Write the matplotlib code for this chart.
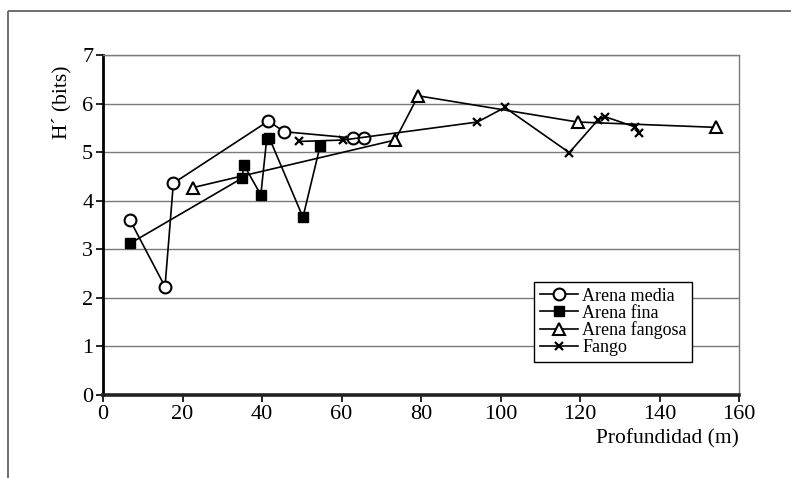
import matplotlib
matplotlib.use("Agg")
import matplotlib.pyplot as plt
from matplotlib.patches import Rectangle

plt.rcParams['font.family'] = ['Liberation Serif', 'DejaVu Serif']

# Arena media
media_x = [6.8, 15.6, 17.7, 41.6, 45.6, 63.0, 65.7]
media_y = [3.60, 2.23, 4.36, 5.64, 5.42, 5.29, 5.30]

# Arena fina
fina_x = [6.8, 34.9, 35.5, 39.7, 41.2, 41.8, 50.3, 54.6]
fina_y = [3.12, 4.46, 4.73, 4.12, 5.28, 5.30, 3.66, 5.12]

# Arena fangosa
fangosa_x = [22.6, 73.5, 79.3, 119.4, 154.2]
fangosa_y = [4.27, 5.25, 6.16, 5.62, 5.51]

# Fango
fango_x = [49.3, 60.5, 94.2, 101.1, 117.3, 124.6, 126.3, 133.8, 134.9]
fango_y = [5.22, 5.25, 5.62, 5.92, 4.99, 5.67, 5.73, 5.52, 5.40]

fig = plt.figure(figsize=(7.91, 4.78), dpi=100)

# marco gris exterior
fig.patches.append(Rectangle((8 / 791, 1 - 11 / 478), 2, -2, transform=fig.transFigure,
                             fill=False, edgecolor='#6e6e6e', linewidth=1.4))

ax = fig.add_axes([103 / 791, 1 - 395 / 478, 636 / 791, 340 / 478])

kw = dict(color='black', linewidth=1.2, clip_on=False)
ax.plot(media_x, media_y, marker='o', markersize=8.5, markerfacecolor='white',
        markeredgecolor='black', markeredgewidth=1.5, label='Arena media', **kw)
ax.plot(fina_x, fina_y, marker='s', markersize=7, markerfacecolor='black',
        markeredgecolor='black', label='Arena fina', **kw)
ax.plot(fangosa_x, fangosa_y, marker='^', markersize=8.5, markerfacecolor='white',
        markeredgecolor='black', markeredgewidth=1.5, label='Arena fangosa', **kw)
ax.plot(fango_x, fango_y, marker='x', markersize=6, markeredgewidth=1.6,
        label='Fango', **kw)

ax.set_xlim(0, 160)
ax.set_ylim(0, 7)
ax.set_xticks(range(0, 161, 20))
ax.set_yticks(range(0, 8))
ax.grid(axis='y', color='#7a7a7a', linewidth=1.0)
ax.set_axisbelow(True)

for s in ['top', 'right']:
    ax.spines[s].set_color('#7a7a7a')
    ax.spines[s].set_linewidth(1.0)
ax.spines['left'].set_linewidth(2.0)
ax.spines['bottom'].set_linewidth(2.6)
ax.spines['bottom'].set_color('#222222')

ax.tick_params(axis='both', labelsize=16, length=5, width=1.2, direction='out', pad=2)

ax.set_xlabel('Profundidad (m)', fontsize=15.5, loc='right', labelpad=4)
ax.set_ylabel('H\u00b4 (bits)', fontsize=15.5)
ax.yaxis.set_label_coords(-0.05, 0.86)

leg = ax.legend(loc='upper left', bbox_to_anchor=(0.678, 0.332), borderaxespad=0,
                fontsize=13, labelspacing=0.0, handlelength=2.1, handletextpad=0.25,
                borderpad=0.3, fancybox=False, framealpha=1, edgecolor='black')
leg.get_frame().set_linewidth(1.0)

fig.savefig('out.png', dpi=100)
